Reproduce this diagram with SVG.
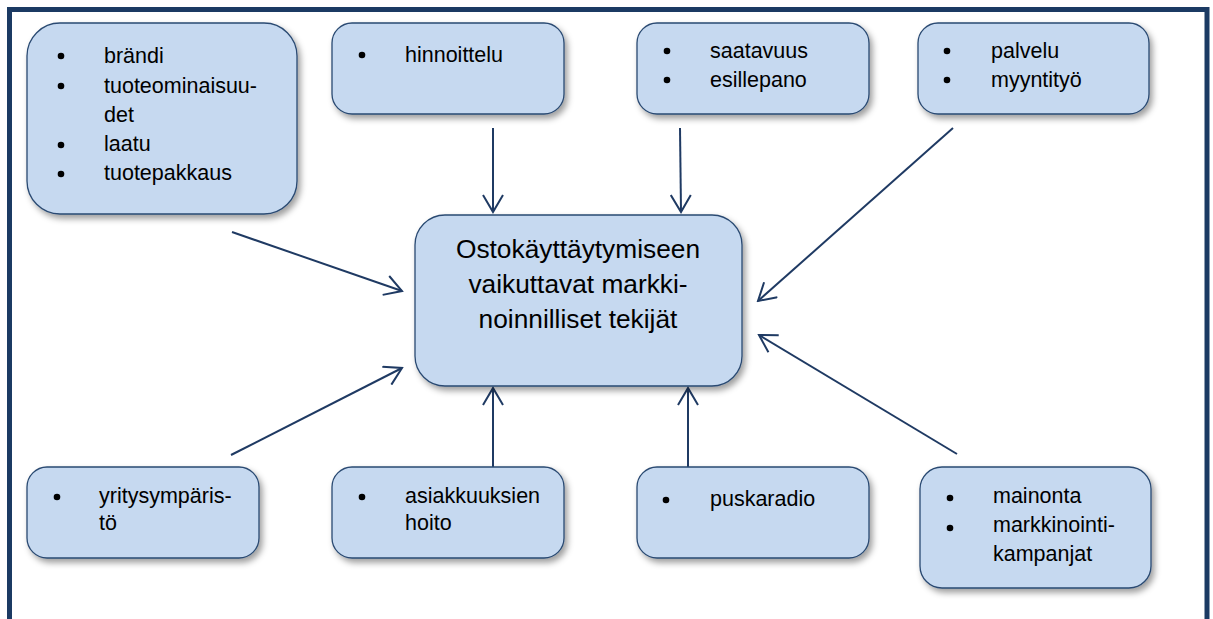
<svg xmlns="http://www.w3.org/2000/svg" width="1213" height="619" viewBox="0 0 1213 619">
  <defs>
    <filter id="shadow" x="-10%" y="-10%" width="130%" height="140%">
      <feDropShadow dx="3" dy="4" stdDeviation="3" flood-color="#000" flood-opacity="0.38"/>
    </filter>
    <marker id="arrow" viewBox="-18 -11 20 22" refX="0" refY="0" markerWidth="20" markerHeight="22" markerUnits="userSpaceOnUse" orient="auto">
      <path d="M-17,-10 L0,0 L-17,10" fill="none" stroke="#1F3A63" stroke-width="2"/>
    </marker>
    <style>
      .box { fill: #C6D9F0; stroke: #2A4A72; stroke-width: 1.3; filter: url(#shadow); }
      .t { font-family: "Liberation Sans", Arial, sans-serif; font-size: 21.5px; fill: #000; }
      .big { font-family: "Liberation Sans", Arial, sans-serif; font-size: 26.3px; fill: #000; text-anchor: middle; }
      .dot { fill: #000; }
      .link { stroke: #1F3A63; stroke-width: 2; fill: none; marker-end: url(#arrow); }
    </style>
  </defs>

  <rect width="1213" height="619" fill="#fff"/>
  <!-- outer frame, open at the bottom -->
  <path d="M9.5,640 V9.5 H1207 V640" fill="none" stroke="#1B3A63" stroke-width="5"/>

  <!-- connectors -->
  <g id="connectors">
    <line class="link" x1="232" y1="232" x2="402" y2="291"/>
    <line class="link" x1="493" y1="128" x2="493" y2="212"/>
    <line class="link" x1="680" y1="128" x2="681" y2="212"/>
    <line class="link" x1="953" y1="128" x2="758" y2="301"/>
    <line class="link" x1="231" y1="455" x2="402" y2="368"/>
    <line class="link" x1="493" y1="467" x2="493" y2="388"/>
    <line class="link" x1="688" y1="467" x2="688" y2="388"/>
    <line class="link" x1="957" y1="454" x2="759" y2="335"/>
  </g>

  <!-- center -->
  <g id="center">
    <rect class="box" x="415" y="215" width="327" height="171" rx="30"/>
    <text class="big" x="578" y="258">Ostokäyttäytymiseen</text>
    <text class="big" x="578" y="293">vaikuttavat markki-</text>
    <text class="big" x="578" y="328">noinnilliset tekijät</text>
  </g>

  <!-- product -->
  <g id="tuote">
    <rect class="box" x="27" y="23" width="270" height="191" rx="33"/>
    <circle class="dot" cx="61" cy="56" r="3.3"/>
    <circle class="dot" cx="61" cy="86" r="3.3"/>
    <circle class="dot" cx="61" cy="145" r="3.3"/>
    <circle class="dot" cx="61" cy="174" r="3.3"/>
    <text class="t" x="104" y="63">brändi</text>
    <text class="t" x="104" y="92.5">tuoteominaisuu-</text>
    <text class="t" x="104" y="121.5">det</text>
    <text class="t" x="104" y="151">laatu</text>
    <text class="t" x="104" y="180">tuotepakkaus</text>
  </g>

  <!-- price -->
  <g id="hinta">
    <rect class="box" x="332" y="23" width="232" height="91" rx="20"/>
    <circle class="dot" cx="362" cy="55" r="3.3"/>
    <text class="t" x="405" y="62">hinnoittelu</text>
  </g>

  <!-- place -->
  <g id="saatavuus">
    <rect class="box" x="637" y="23" width="232" height="91" rx="20"/>
    <circle class="dot" cx="667" cy="51" r="3.3"/>
    <circle class="dot" cx="667" cy="80" r="3.3"/>
    <text class="t" x="710" y="58">saatavuus</text>
    <text class="t" x="710" y="87">esillepano</text>
  </g>

  <!-- service -->
  <g id="palvelu">
    <rect class="box" x="918" y="23" width="231" height="91" rx="20"/>
    <circle class="dot" cx="947" cy="51" r="3.3"/>
    <circle class="dot" cx="947" cy="80" r="3.3"/>
    <text class="t" x="991" y="58">palvelu</text>
    <text class="t" x="991" y="87">myyntityö</text>
  </g>

  <!-- environment -->
  <g id="ymparisto">
    <rect class="box" x="27" y="467" width="232" height="91" rx="20"/>
    <circle class="dot" cx="57" cy="497" r="3.3"/>
    <text class="t" x="99" y="503">yritysympäris-</text>
    <text class="t" x="99" y="530">tö</text>
  </g>

  <!-- customer relations -->
  <g id="asiakkuudet">
    <rect class="box" x="332" y="467" width="232" height="91" rx="20"/>
    <circle class="dot" cx="362" cy="497" r="3.3"/>
    <text class="t" x="405" y="503">asiakkuuksien</text>
    <text class="t" x="405" y="530">hoito</text>
  </g>

  <!-- word of mouth -->
  <g id="puskaradio">
    <rect class="box" x="637" y="467" width="232" height="91" rx="20"/>
    <circle class="dot" cx="666" cy="500" r="3.3"/>
    <text class="t" x="710" y="506">puskaradio</text>
  </g>

  <!-- promotion -->
  <g id="mainonta">
    <rect class="box" x="920" y="467" width="231" height="121" rx="22"/>
    <circle class="dot" cx="950" cy="498" r="3.3"/>
    <circle class="dot" cx="950" cy="528" r="3.3"/>
    <text class="t" x="993" y="503">mainonta</text>
    <text class="t" x="993" y="532">markkinointi-</text>
    <text class="t" x="993" y="561">kampanjat</text>
  </g>
</svg>
